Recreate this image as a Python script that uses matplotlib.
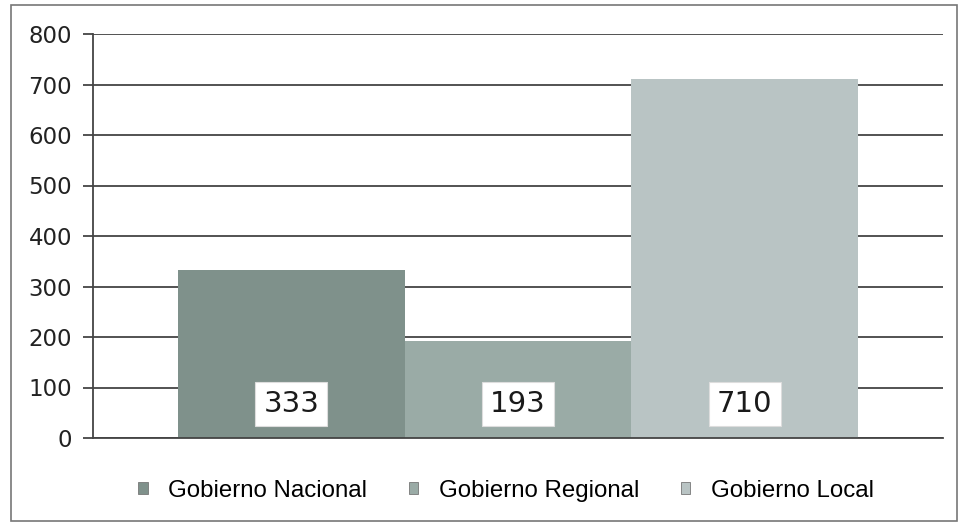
import matplotlib.pyplot as plt
import matplotlib.patches as mpatches
import numpy as np

series = ["Gobierno Nacional", "Gobierno Regional", "Gobierno Local"]
values = [333, 193, 710]
colors = ["#7f918b", "#9aaba6", "#b9c4c4"]
yticks = [0, 100, 200, 300, 400, 500, 600, 700, 800]

W, H = 965, 524
fig = plt.figure(figsize=(W / 100, H / 100), dpi=100)
# axes box in pixels: left 93, right 943, top 34, bottom 438
ax = fig.add_axes([93 / W, 1 - 438 / H, (943 - 93) / W, (438 - 34) / H])

width = 0.8 / len(series)
offsets = (np.arange(len(series)) - (len(series) - 1) / 2) * width
for off, val, col, name in zip(offsets, values, colors, series):
    ax.bar(off, val, width=width, color=col, label=name, zorder=2)
    ax.text(off, 67, str(val), ha="center", va="center", fontsize=21,
            family="DejaVu Sans", color="#1a1a1a", zorder=3,
            bbox=dict(boxstyle="square,pad=0.28", fc="white", ec="#dddddd", lw=0.8))

ax.set_xlim(-0.5, 0.5)
ax.set_ylim(0, 800)
ax.set_yticks(yticks)
ax.set_yticklabels([str(t) for t in yticks], fontsize=16.5, family="DejaVu Sans",
                   color="#222222")
ax.set_xticks([])
ax.yaxis.grid(True, color="#444444", linewidth=1.3, zorder=1)
ax.set_axisbelow(True)
ax.tick_params(axis="y", length=7, width=1.3, color="#444444", pad=8)
for s in ["top", "right"]:
    ax.spines[s].set_visible(False)
ax.spines["left"].set_color("#444444")
ax.spines["left"].set_linewidth(1.3)
ax.spines["bottom"].set_color("#444444")
ax.spines["bottom"].set_linewidth(1.3)

handles = [mpatches.Patch(facecolor=c, edgecolor="#777777", lw=0.6, label=n)
           for c, n in zip(colors, series)]
fig.legend(handles=handles, loc="center", bbox_to_anchor=(506 / W, 1 - 491 / H),
           ncol=3, frameon=False, handlelength=0.38, handleheight=0.38,
           columnspacing=1.75, handletextpad=0.85, borderpad=0,
           prop={"family": "Liberation Sans", "size": 17.3})

border = mpatches.Rectangle((11 / W, 1 - 521 / H), (957 - 11) / W, (521 - 5) / H,
                            transform=fig.transFigure, fill=False,
                            ec="#777777", lw=1.2)
fig.patches.append(border)

fig.savefig("out.png", dpi=100)
